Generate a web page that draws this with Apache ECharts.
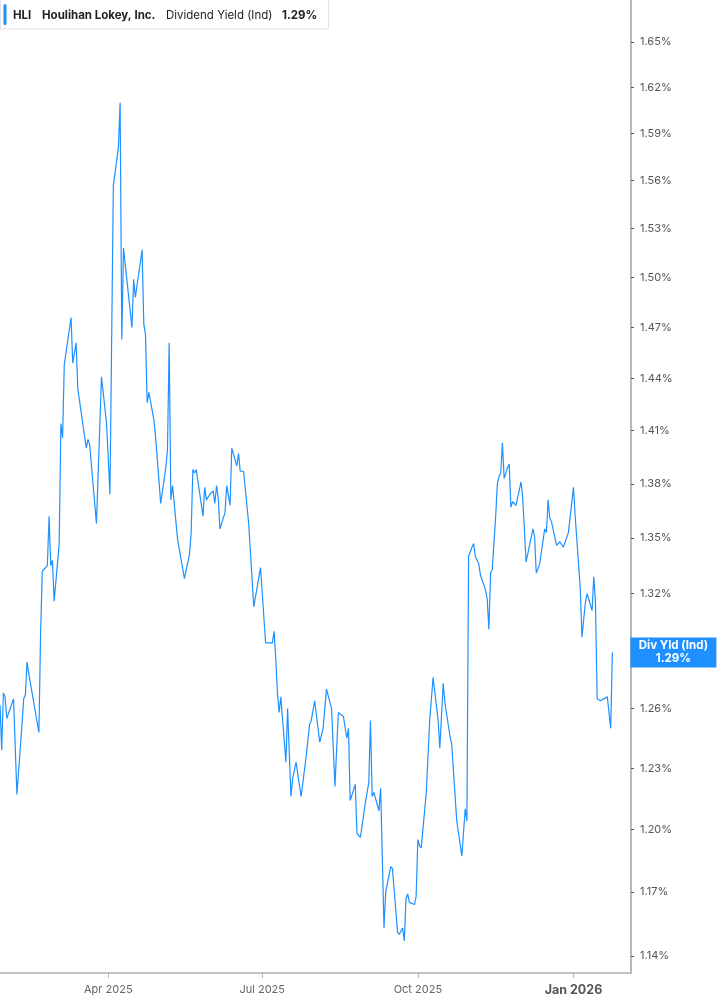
<!DOCTYPE html>
<html><head><meta charset="utf-8">
<script src="https://cdn.jsdelivr.net/npm/echarts@6/dist/echarts.min.js"></script>
<style>html,body{margin:0;padding:0;background:#fff}#c{width:717px;height:1005px}</style>
</head><body><div id="c"></div>
<script>
const ticker = 'HLI';
const company = 'Houlihan Lokey, Inc.';
const metric = 'Dividend Yield (Ind)';
const shortMetric = 'Div Yld (Ind)';

const dates = [
'2025-01-27','2025-01-28','2025-01-29','2025-01-30','2025-01-31','2025-02-04','2025-02-06','2025-02-09','2025-02-10','2025-02-11',
'2025-02-12','2025-02-13','2025-02-14','2025-02-19','2025-02-20','2025-02-21','2025-02-24','2025-02-25','2025-02-26','2025-02-27',
'2025-02-28','2025-03-03','2025-03-04','2025-03-05','2025-03-06','2025-03-07','2025-03-10','2025-03-11','2025-03-13','2025-03-14',
'2025-03-19','2025-03-20','2025-03-21','2025-03-25','2025-03-28','2025-03-31','2025-04-02','2025-04-04','2025-04-07','2025-04-08',
'2025-04-09','2025-04-10','2025-04-15','2025-04-16','2025-04-17','2025-04-21','2025-04-22','2025-04-23','2025-04-24','2025-04-25',
'2025-04-28','2025-04-29','2025-04-30','2025-05-02','2025-05-05','2025-05-06','2025-05-07','2025-05-08','2025-05-09','2025-05-12',
'2025-05-13','2025-05-14','2025-05-16','2025-05-19','2025-05-20','2025-05-21','2025-05-22','2025-05-23','2025-05-27','2025-05-28',
'2025-05-29','2025-05-31','2025-06-02','2025-06-03','2025-06-04','2025-06-05','2025-06-06','2025-06-09','2025-06-10','2025-06-12',
'2025-06-13','2025-06-16','2025-06-17','2025-06-18','2025-06-20','2025-06-23','2025-06-26','2025-06-27','2025-06-30','2025-07-03',
'2025-07-07','2025-07-08','2025-07-09','2025-07-10','2025-07-11','2025-07-12','2025-07-15','2025-07-16','2025-07-18','2025-07-19',
'2025-07-21','2025-07-24','2025-07-27','2025-07-29','2025-07-30','2025-08-01','2025-08-04','2025-08-06','2025-08-08','2025-08-11',
'2025-08-13','2025-08-15','2025-08-18','2025-08-20','2025-08-21','2025-08-22','2025-08-25','2025-08-26','2025-08-27','2025-08-28',
'2025-08-31','2025-09-02','2025-09-03','2025-09-04','2025-09-05','2025-09-08','2025-09-09','2025-09-11','2025-09-12','2025-09-15',
'2025-09-16','2025-09-19','2025-09-20','2025-09-22','2025-09-23','2025-09-24','2025-09-25','2025-09-26','2025-09-29','2025-09-30',
'2025-10-01','2025-10-02','2025-10-03','2025-10-06','2025-10-08','2025-10-10','2025-10-13','2025-10-14','2025-10-16','2025-10-17',
'2025-10-20','2025-10-21','2025-10-24','2025-10-27','2025-10-28','2025-10-29','2025-10-30','2025-10-31','2025-11-02','2025-11-03',
'2025-11-04','2025-11-06','2025-11-07','2025-11-10','2025-11-11','2025-11-12','2025-11-13','2025-11-14','2025-11-16','2025-11-17',
'2025-11-18','2025-11-19','2025-11-20','2025-11-21','2025-11-23','2025-11-24','2025-11-25','2025-11-26','2025-11-28','2025-12-01',
'2025-12-02','2025-12-04','2025-12-05','2025-12-08','2025-12-09','2025-12-10','2025-12-12','2025-12-15','2025-12-16','2025-12-17',
'2025-12-18','2025-12-19','2025-12-22','2025-12-24','2025-12-26','2025-12-29','2026-01-01','2026-01-02','2026-01-05','2026-01-06',
'2026-01-08','2026-01-09','2026-01-12','2026-01-13','2026-01-14','2026-01-15','2026-01-17','2026-01-21','2026-01-23','2026-01-24'
];

const yieldValues = [
1.262,1.239,1.268,1.266,1.255,1.265,1.217,1.252,1.265,1.267,
1.284,1.278,1.278,1.248,1.299,1.332,1.335,1.362,1.335,1.338,
1.316,1.347,1.414,1.406,1.448,1.448,1.476,1.449,1.461,1.434,
1.400,1.405,1.402,1.358,1.441,1.414,1.374,1.557,1.581,1.610,
1.463,1.518,1.470,1.499,1.488,1.517,1.472,1.466,1.426,1.432,
1.416,1.406,1.406,1.369,1.389,1.399,1.461,1.371,1.379,1.349,
1.344,1.343,1.328,1.341,1.353,1.388,1.386,1.388,1.362,1.378,
1.371,1.374,1.376,1.369,1.379,1.372,1.355,1.364,1.379,1.368,
1.400,1.390,1.397,1.387,1.387,1.358,1.313,1.314,1.334,1.294,
1.294,1.300,1.286,1.268,1.258,1.266,1.233,1.260,1.216,1.225,
1.233,1.216,1.236,1.252,1.254,1.264,1.243,1.250,1.270,1.260,
1.221,1.258,1.256,1.245,1.250,1.214,1.222,1.198,1.198,1.196,
1.213,1.223,1.254,1.216,1.218,1.209,1.220,1.153,1.170,1.182,
1.181,1.151,1.150,1.153,1.147,1.167,1.169,1.165,1.164,1.168,
1.195,1.192,1.191,1.218,1.254,1.276,1.254,1.240,1.273,1.263,
1.246,1.242,1.204,1.187,1.187,1.210,1.204,1.340,1.345,1.347,
1.340,1.336,1.330,1.322,1.317,1.301,1.331,1.333,1.362,1.380,
1.384,1.386,1.403,1.383,1.389,1.391,1.367,1.370,1.368,1.381,
1.372,1.337,1.336,1.355,1.351,1.331,1.336,1.355,1.353,1.371,
1.361,1.359,1.346,1.348,1.345,1.353,1.378,1.362,1.323,1.297,
1.315,1.320,1.311,1.329,1.315,1.265,1.264,1.266,1.250,1.289
];

const yTickValues = [1.14,1.17,1.20,1.23,1.26,1.29,1.32,1.35,1.38,1.41,1.44,1.47,1.50,1.53,1.56,1.59,1.62,1.65];
const yLabelValues = [1.14,1.17,1.20,1.23,1.26,1.32,1.35,1.38,1.41,1.44,1.47,1.50,1.53,1.56,1.59,1.62,1.65];
const xTickDates = ['2025-04-01','2025-07-01','2025-10-01','2026-01-01'];
const monthNames = ['Jan','Feb','Mar','Apr','May','Jun','Jul','Aug','Sep','Oct','Nov','Dec'];
const xRange = ['2025-01-27','2026-02-04'];
const yRange = [1.1322, 1.6783];

const toTime = s => +echarts.time.parse(s);
const lineColor = '#1E90FF';
const lastValue = yieldValues[yieldValues.length - 1];
const lastText = lastValue.toFixed(2) + '%';
const FONT = 'Inter, Roboto, sans-serif';

const chart = echarts.init(document.getElementById('c'), null, {renderer: 'canvas'});
const option = {
  animation: false,
  backgroundColor: '#fff',
  grid: {left: 0, right: 86, top: 0, bottom: 32, containLabel: false},
  xAxis: {
    type: 'value',
    min: toTime(xRange[0]),
    max: toTime(xRange[1]),
    axisLine: {show: true, lineStyle: {color: '#b3b3b3', width: 1.5}},
    axisTick: {show: true, length: 5, lineStyle: {color: '#b3b3b3'}, customValues: xTickDates.map(toTime)},
    axisLabel: {
      customValues: xTickDates.map(toTime),
      margin: 11,
      color: '#666',
      fontSize: 11,
      fontFamily: FONT,
      formatter: function (v) {
        const d = new Date(v);
        const s = monthNames[d.getMonth()] + ' ' + d.getFullYear();
        return d.getMonth() === 0 ? '{b|' + s + '}' : s;
      },
      rich: {b: {fontWeight: 'bold', fontSize: 12.5, color: '#555', fontFamily: FONT}}
    },
    splitLine: {show: false}
  },
  yAxis: {
    type: 'value',
    position: 'right',
    min: Math.log(yRange[0]),
    max: Math.log(yRange[1]),
    axisLine: {show: true, lineStyle: {color: '#a0a0a0', width: 1.5}},
    axisTick: {show: true, length: 3, lineStyle: {color: '#555'}, customValues: yTickValues.map(v => Math.log(v))},
    axisLabel: {
      customValues: yLabelValues.map(v => Math.log(v)),
      margin: 9,
      color: '#555',
      fontSize: 11,
      fontFamily: FONT,
      formatter: function (v) { return Math.exp(v).toFixed(2) + '%'; }
    },
    splitLine: {show: false}
  },
  series: [{
    type: 'line',
    name: shortMetric,
    data: dates.map((d, i) => [toTime(d), Math.log(yieldValues[i])]),
    showSymbol: false,
    lineStyle: {color: lineColor, width: 1.2},
    itemStyle: {color: lineColor},
    endLabel: {
      show: true,
      distance: 18,
      formatter: function () { return '{a|' + shortMetric + '}\n{b|' + lastText + '}'; },
      backgroundColor: lineColor,
      width: 78,
      padding: [2, 4, 2, 4],
      rich: {
        a: {color: '#fff', fontWeight: 'bold', fontSize: 11.5, lineHeight: 13, align: 'center', fontFamily: FONT},
        b: {color: '#fff', fontWeight: 'bold', fontSize: 11.5, lineHeight: 13, align: 'center', fontFamily: FONT}
      }
    }
  }],
  graphic: [
    {type: 'rect', shape: {x: 0.5, y: -2, width: 328, height: 31}, style: {fill: '#fff', stroke: '#e3e3e3', lineWidth: 1}, z: 100},
    {type: 'rect', shape: {x: 3.5, y: 4, width: 3, height: 21, r: 1.5}, style: {fill: lineColor}, z: 101},
    {type: 'text', x: 13, y: 16, style: {text: ticker, font: 'bold 11.5px ' + FONT, fill: '#222', verticalAlign: 'middle'}, z: 101},
    {type: 'text', x: 42, y: 16, style: {text: company, font: 'bold 11.5px ' + FONT, fill: '#222', verticalAlign: 'middle'}, z: 101},
    {type: 'text', x: 166, y: 16, style: {text: metric, font: '11.5px ' + FONT, fill: '#222', verticalAlign: 'middle'}, z: 101},
    {type: 'text', x: 282, y: 16, style: {text: lastText, font: 'bold 11.5px ' + FONT, fill: '#222', verticalAlign: 'middle'}, z: 101}
  ]
};
chart.setOption(option);
</script>
</body></html>
